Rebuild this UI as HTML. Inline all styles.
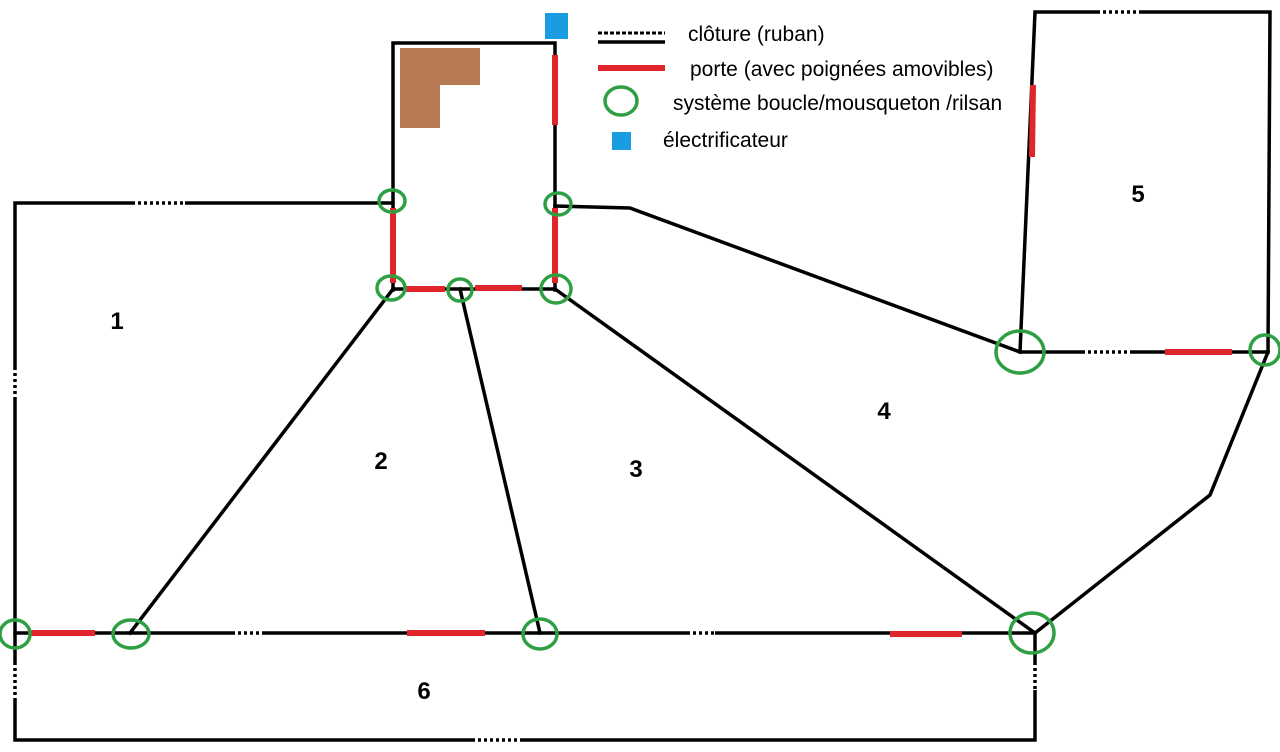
<!DOCTYPE html>
<html><head><meta charset="utf-8"><style>
html,body{margin:0;padding:0;background:#fff;width:1280px;height:752px;overflow:hidden}
svg{display:block}
text{font-family:"Liberation Sans",sans-serif;fill:#000}
</style></head><body>
<svg width="1280" height="752" viewBox="0 0 1280 752" xmlns="http://www.w3.org/2000/svg">
<g stroke="#000" stroke-width="3.5" fill="none" stroke-linecap="square">
<polyline points="393,203 15,203 15,740 1035,740 1035,633"/>
<line x1="15" y1="633" x2="1035" y2="633"/>
<polyline points="393,290 393,43 555,43 555,290"/>
<line x1="393" y1="289" x2="555" y2="289"/>
<polyline points="555,206 630,208 1020,352"/>
<polyline points="1020,352 1035,12 1270,12 1268,352 1020,352"/>
<polyline points="1268,352 1210,495 1035,633"/>
<line x1="393" y1="289" x2="130" y2="633"/>
<line x1="460" y1="289" x2="540" y2="633"/>
<line x1="555" y1="289" x2="1035" y2="633"/>
</g>
<g stroke="#fff" stroke-width="4" stroke-dasharray="3,3">
<line x1="135" y1="203" x2="185" y2="203"/>
<line x1="15" y1="370" x2="15" y2="400"/>
<line x1="15" y1="665" x2="15" y2="700"/>
<line x1="235" y1="633" x2="262" y2="633"/>
<line x1="690" y1="633" x2="715" y2="633"/>
<line x1="475" y1="740" x2="520" y2="740"/>
<line x1="1035" y1="665" x2="1035" y2="690"/>
<line x1="1100" y1="12" x2="1140" y2="12"/>
<line x1="1085" y1="352" x2="1130" y2="352"/>
</g>
<g stroke="#e0262b" stroke-width="6">
<line x1="555" y1="55" x2="555" y2="125"/>
<line x1="393" y1="208" x2="393" y2="283"/>
<line x1="555" y1="208" x2="555" y2="283"/>
<line x1="405" y1="289" x2="445" y2="289"/>
<line x1="475" y1="288" x2="522" y2="288"/>
<line x1="30" y1="633" x2="95" y2="633"/>
<line x1="407" y1="633" x2="485" y2="633"/>
<line x1="890" y1="634" x2="962" y2="634"/>
<line x1="1165" y1="352" x2="1232" y2="352"/>
<line x1="1033" y1="85" x2="1032" y2="157"/>
<line x1="598" y1="68" x2="665" y2="68"/>
</g>
<path d="M400,48 H480 V85 H440 V128 H400 Z" fill="#b77a55"/>
<g stroke="#2ea043" stroke-width="3.5" fill="none">
<ellipse cx="392" cy="201" rx="13" ry="11"/>
<ellipse cx="558" cy="204" rx="13" ry="11"/>
<ellipse cx="391" cy="288" rx="14" ry="12"/>
<ellipse cx="460" cy="290" rx="12" ry="11"/>
<ellipse cx="556" cy="289" rx="15" ry="14"/>
<ellipse cx="1020" cy="352" rx="24" ry="21"/>
<ellipse cx="1265" cy="350" rx="15" ry="15"/>
<ellipse cx="15" cy="634" rx="15" ry="14"/>
<ellipse cx="131" cy="634" rx="18" ry="14"/>
<ellipse cx="540" cy="634" rx="17" ry="15"/>
<ellipse cx="1032" cy="633" rx="22" ry="20"/>
<ellipse cx="621" cy="101" rx="16" ry="14"/>
</g>
<rect x="545" y="13" width="23" height="26" fill="#1a9de0"/>
<rect x="612" y="132" width="19" height="18" fill="#1a9de0"/>
<line x1="598" y1="42" x2="665" y2="42" stroke="#000" stroke-width="3.5"/>
<line x1="598" y1="33" x2="665" y2="33" stroke="#000" stroke-width="3" stroke-dasharray="4,2"/>
<g font-size="21">
<text x="688" y="41">clôture (ruban)</text>
<text x="690" y="76">porte (avec poignées amovibles)</text>
<text x="673" y="110">système boucle/mousqueton /rilsan</text>
<text x="663" y="147">électrificateur</text>
</g>
<g font-size="24" font-weight="bold" text-anchor="middle">
<text x="117" y="329">1</text>
<text x="381" y="469">2</text>
<text x="636" y="477">3</text>
<text x="884" y="419">4</text>
<text x="1138" y="202">5</text>
<text x="424" y="699">6</text>
</g>
</svg>
</body></html>
